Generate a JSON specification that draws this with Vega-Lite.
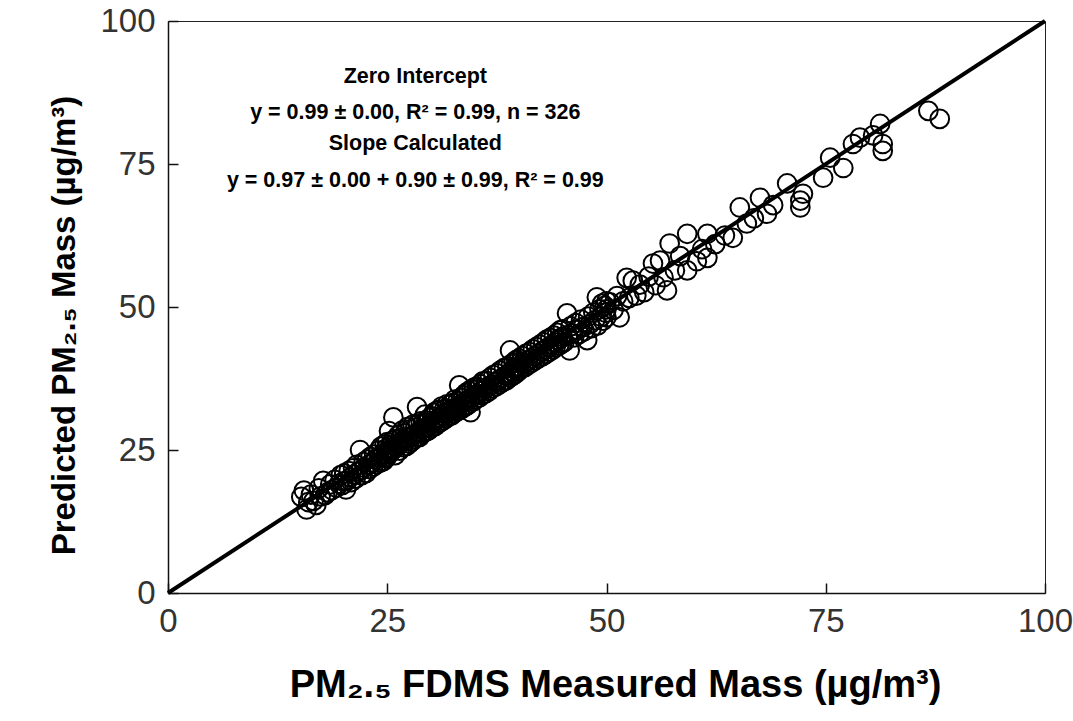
{
  "$schema": "https://vega.github.io/schema/vega-lite/v6.json",
  "width": 877,
  "height": 572,
  "autosize": {"type": "none"},
  "padding": {"left": 168, "top": 21, "right": 28, "bottom": 128},
  "background": "white",
  "config": {
    "view": {"stroke": "#222", "strokeWidth": 1},
    "font": "Liberation Sans",
    "axis": {
      "grid": false,
      "domainColor": "#111",
      "domainWidth": 1.5,
      "tickColor": "#111",
      "tickWidth": 1.5,
      "tickSize": -10,
      "labelFont": "Liberation Sans",
      "labelFontSize": 33,
      "labelColor": "#333",
      "titleFont": "Liberation Sans",
      "titleFontWeight": "bold",
      "titleColor": "#000"
    }
  },
  "datasets": {
    "points": [
      {"meas":15.2,"pred":16.8},{"meas":15.5,"pred":17.9},{"meas":15.8,"pred":14.6},{"meas":16.0,"pred":15.9},{"meas":16.3,"pred":17.2},{"meas":16.6,"pred":16.1},{"meas":16.9,"pred":15.4},{"meas":17.2,"pred":18.3},{"meas":17.4,"pred":16.9},{"meas":17.7,"pred":19.6},
      {"meas":17.9,"pred":17.1},{"meas":18.2,"pred":17.6},{"meas":18.5,"pred":19.0},{"meas":18.7,"pred":18.0},{"meas":19.0,"pred":19.8},{"meas":19.2,"pred":18.4},{"meas":19.5,"pred":19.1},{"meas":19.7,"pred":20.6},{"meas":19.9,"pred":18.9},{"meas":20.0,"pred":19.5},
      {"meas":20.1,"pred":20.9},{"meas":20.3,"pred":18.1},{"meas":20.4,"pred":19.6},{"meas":20.6,"pred":21.3},{"meas":20.8,"pred":20.2},{"meas":20.9,"pred":19.4},{"meas":21.1,"pred":21.8},{"meas":21.2,"pred":20.7},{"meas":21.4,"pred":20.0},{"meas":21.5,"pred":22.4},
      {"meas":21.7,"pred":21.2},{"meas":21.9,"pred":25.0},{"meas":22.0,"pred":21.5},{"meas":22.1,"pred":20.6},{"meas":22.3,"pred":22.9},{"meas":22.4,"pred":21.9},{"meas":22.6,"pred":21.0},{"meas":22.7,"pred":23.3},{"meas":22.9,"pred":22.4},{"meas":23.0,"pred":21.7},
      {"meas":23.1,"pred":23.8},{"meas":23.3,"pred":22.8},{"meas":23.4,"pred":22.1},{"meas":23.5,"pred":24.2},{"meas":23.7,"pred":23.4},{"meas":23.8,"pred":22.5},{"meas":24.0,"pred":24.9},{"meas":24.1,"pred":23.6},{"meas":24.2,"pred":22.8},{"meas":24.3,"pred":25.6},
      {"meas":24.4,"pred":23.9},{"meas":24.5,"pred":24.3},{"meas":24.6,"pred":23.1},{"meas":24.7,"pred":26.0},{"meas":24.8,"pred":24.4},{"meas":24.9,"pred":23.6},{"meas":24.9,"pred":25.3},{"meas":25.0,"pred":24.7},{"meas":25.0,"pred":26.4},{"meas":25.0,"pred":23.9},
      {"meas":25.1,"pred":25.0},{"meas":25.2,"pred":28.3},{"meas":25.3,"pred":24.4},{"meas":25.4,"pred":25.9},{"meas":25.5,"pred":24.8},{"meas":25.6,"pred":26.6},{"meas":25.7,"pred":30.7},{"meas":25.8,"pred":25.2},{"meas":25.9,"pred":24.1},{"meas":26.0,"pred":26.9},
      {"meas":26.1,"pred":25.6},{"meas":26.2,"pred":27.5},{"meas":26.3,"pred":26.0},{"meas":26.4,"pred":24.9},{"meas":26.5,"pred":27.1},{"meas":26.6,"pred":26.3},{"meas":26.7,"pred":28.4},{"meas":26.8,"pred":25.5},{"meas":26.9,"pred":26.8},{"meas":27.0,"pred":27.9},
      {"meas":27.1,"pred":26.5},{"meas":27.2,"pred":25.7},{"meas":27.3,"pred":29.0},{"meas":27.4,"pred":27.2},{"meas":27.5,"pred":26.1},{"meas":27.6,"pred":28.6},{"meas":27.7,"pred":27.4},{"meas":27.8,"pred":26.5},{"meas":27.9,"pred":29.4},{"meas":28.0,"pred":27.6},
      {"meas":28.1,"pred":26.9},{"meas":28.2,"pred":28.9},{"meas":28.3,"pred":27.9},{"meas":28.4,"pred":32.5},{"meas":28.4,"pred":27.2},{"meas":28.5,"pred":29.6},{"meas":28.6,"pred":28.1},{"meas":28.7,"pred":27.3},{"meas":28.8,"pred":30.0},{"meas":28.9,"pred":28.7},
      {"meas":29.0,"pred":27.9},{"meas":29.1,"pred":29.8},{"meas":29.2,"pred":28.8},{"meas":29.3,"pred":31.2},{"meas":29.4,"pred":28.2},{"meas":29.5,"pred":30.1},{"meas":29.6,"pred":29.0},{"meas":29.7,"pred":28.4},{"meas":29.8,"pred":30.6},{"meas":29.9,"pred":29.5},
      {"meas":30.0,"pred":28.8},
      {"meas":30.1,"pred":30.9},{"meas":30.2,"pred":29.6},{"meas":30.3,"pred":31.5},{"meas":30.4,"pred":30.1},{"meas":30.5,"pred":29.2},{"meas":30.6,"pred":31.8},{"meas":30.7,"pred":30.4},{"meas":30.8,"pred":29.7},{"meas":30.9,"pred":32.0},{"meas":31.0,"pred":30.6},
      {"meas":31.1,"pred":29.9},{"meas":31.2,"pred":32.6},{"meas":31.3,"pred":31.0},{"meas":31.4,"pred":30.2},{"meas":31.5,"pred":32.1},{"meas":31.6,"pred":31.3},{"meas":31.7,"pred":30.5},{"meas":31.8,"pred":33.0},{"meas":31.9,"pred":31.6},{"meas":32.0,"pred":30.9},
      {"meas":32.1,"pred":32.9},{"meas":32.2,"pred":31.8},{"meas":32.3,"pred":31.0},{"meas":32.4,"pred":33.2},{"meas":32.5,"pred":32.2},{"meas":32.6,"pred":31.4},{"meas":32.7,"pred":33.8},{"meas":32.8,"pred":32.4},{"meas":32.9,"pred":31.7},{"meas":33.0,"pred":33.5},
      {"meas":33.1,"pred":32.7},{"meas":33.2,"pred":36.3},{"meas":33.3,"pred":32.0},{"meas":33.4,"pred":34.1},{"meas":33.5,"pred":33.0},{"meas":33.6,"pred":32.3},{"meas":33.7,"pred":34.5},{"meas":33.8,"pred":33.4},{"meas":33.9,"pred":32.6},{"meas":34.0,"pred":35.0},
      {"meas":34.1,"pred":33.6},{"meas":34.2,"pred":32.9},{"meas":34.3,"pred":35.3},{"meas":34.4,"pred":34.0},{"meas":34.5,"pred":31.6},{"meas":34.6,"pred":35.6},{"meas":34.7,"pred":34.3},{"meas":34.8,"pred":33.5},{"meas":34.9,"pred":35.9},{"meas":35.0,"pred":34.6},
      {"meas":35.1,"pred":33.9},{"meas":35.2,"pred":36.1},{"meas":35.3,"pred":34.8},{"meas":35.4,"pred":35.9},{"meas":35.5,"pred":34.2},{"meas":35.6,"pred":36.5},{"meas":35.7,"pred":35.3},{"meas":35.8,"pred":34.6},{"meas":35.9,"pred":37.0},{"meas":36.0,"pred":35.7},
      {"meas":36.2,"pred":34.9},{"meas":36.3,"pred":37.1},{"meas":36.4,"pred":36.0},{"meas":36.6,"pred":35.3},{"meas":36.7,"pred":37.6},{"meas":36.9,"pred":36.4},{"meas":37.0,"pred":35.8},{"meas":37.1,"pred":38.1},{"meas":37.3,"pred":36.9},{"meas":37.4,"pred":36.1},
      {"meas":37.5,"pred":38.4},{"meas":37.7,"pred":37.2},{"meas":37.8,"pred":36.5},{"meas":37.9,"pred":38.9},{"meas":38.1,"pred":37.6},{"meas":38.2,"pred":36.9},{"meas":38.3,"pred":39.3},{"meas":38.5,"pred":38.0},{"meas":38.6,"pred":37.2},{"meas":38.7,"pred":39.6},
      {"meas":38.9,"pred":38.4},{"meas":39.0,"pred":42.4},{"meas":39.0,"pred":37.7},{"meas":39.1,"pred":40.0},{"meas":39.2,"pred":38.8},{"meas":39.3,"pred":38.0},{"meas":39.4,"pred":40.3},{"meas":39.5,"pred":39.1},{"meas":39.6,"pred":38.3},{"meas":39.7,"pred":40.7},
      {"meas":39.8,"pred":39.4},{"meas":39.9,"pred":38.7},{"meas":40.0,"pred":41.0},{"meas":40.0,"pred":39.6},{"meas":40.0,"pred":38.9},
      {"meas":40.2,"pred":40.5},{"meas":40.3,"pred":39.3},{"meas":40.4,"pred":41.4},{"meas":40.6,"pred":40.1},{"meas":40.7,"pred":39.5},{"meas":40.8,"pred":41.8},{"meas":41.0,"pred":40.6},{"meas":41.1,"pred":39.9},{"meas":41.2,"pred":42.1},{"meas":41.4,"pred":41.0},
      {"meas":41.5,"pred":40.3},{"meas":41.6,"pred":42.6},{"meas":41.8,"pred":41.4},{"meas":41.9,"pred":40.7},{"meas":42.0,"pred":43.0},{"meas":42.2,"pred":41.8},{"meas":42.3,"pred":41.1},{"meas":42.4,"pred":43.4},{"meas":42.6,"pred":42.2},{"meas":42.7,"pred":41.4},
      {"meas":42.8,"pred":43.8},{"meas":43.0,"pred":42.6},{"meas":43.1,"pred":41.8},{"meas":43.2,"pred":44.3},{"meas":43.4,"pred":43.0},{"meas":43.5,"pred":42.2},{"meas":43.6,"pred":44.6},{"meas":43.8,"pred":43.4},{"meas":43.9,"pred":42.6},{"meas":44.0,"pred":45.0},
      {"meas":44.1,"pred":43.8},{"meas":44.2,"pred":43.0},{"meas":44.4,"pred":45.5},{"meas":44.5,"pred":44.2},{"meas":44.6,"pred":43.3},{"meas":44.7,"pred":45.9},{"meas":44.8,"pred":44.5},{"meas":44.9,"pred":43.6},{"meas":45.0,"pred":46.1},{"meas":45.0,"pred":44.8},
      {"meas":45.2,"pred":43.9},{"meas":45.5,"pred":48.9},{"meas":45.6,"pred":45.1},{"meas":45.8,"pred":42.4},{"meas":45.9,"pred":46.6},{"meas":46.1,"pred":45.4},{"meas":46.3,"pred":44.7},{"meas":46.5,"pred":47.2},{"meas":46.7,"pred":46.0},{"meas":46.9,"pred":45.3},
      {"meas":47.1,"pred":47.8},{"meas":47.3,"pred":46.5},{"meas":47.5,"pred":45.8},{"meas":47.8,"pred":44.2},{"meas":47.9,"pred":48.3},{"meas":48.1,"pred":47.0},{"meas":48.3,"pred":46.3},{"meas":48.5,"pred":49.0},{"meas":48.7,"pred":47.7},{"meas":48.9,"pred":51.7},
      {"meas":49.0,"pred":46.8},{"meas":49.2,"pred":49.6},{"meas":49.4,"pred":48.3},{"meas":49.5,"pred":50.6},{"meas":49.6,"pred":47.6},{"meas":49.8,"pred":50.2},{"meas":49.9,"pred":49.0},{"meas":50.0,"pred":48.2},{"meas":50.0,"pred":51.0},{"meas":50.0,"pred":49.6},
      {"meas":50.4,"pred":50.8},{"meas":50.8,"pred":49.5},{"meas":51.2,"pred":51.9},{"meas":51.5,"pred":48.2},{"meas":51.9,"pred":51.0},{"meas":52.3,"pred":55.1},{"meas":52.6,"pred":51.6},{"meas":53.0,"pred":54.6},{"meas":53.4,"pred":52.0},{"meas":53.8,"pred":53.9},
      {"meas":54.3,"pred":52.6},{"meas":54.8,"pred":55.3},
      {"meas":55.3,"pred":57.6},{"meas":55.6,"pred":53.8},{"meas":56.1,"pred":58.1},{"meas":56.5,"pred":55.2},{"meas":56.9,"pred":52.9},{"meas":57.2,"pred":61.1},{"meas":57.8,"pred":56.4},{"meas":58.4,"pred":58.9},{"meas":59.2,"pred":62.8},{"meas":59.2,"pred":56.4},
      {"meas":60.3,"pred":58.0},{"meas":60.9,"pred":60.1},{"meas":61.5,"pred":62.8},{"meas":61.5,"pred":58.6},{"meas":62.4,"pred":61.0},{"meas":63.5,"pred":62.5},{"meas":64.4,"pred":62.1},
      {"meas":65.2,"pred":67.4},{"meas":66.0,"pred":64.6},{"meas":66.8,"pred":65.5},{"meas":67.5,"pred":69.1},{"meas":68.3,"pred":66.3},{"meas":69.0,"pred":67.8},
      {"meas":70.6,"pred":71.6},{"meas":72.1,"pred":67.4},{"meas":72.1,"pred":68.6},{"meas":72.4,"pred":69.8},{"meas":74.7,"pred":72.6},
      {"meas":75.5,"pred":76.1},{"meas":77.0,"pred":74.3},{"meas":78.1,"pred":78.5},{"meas":78.9,"pred":79.6},
      {"meas":80.4,"pred":80.0},{"meas":81.2,"pred":82.0},{"meas":81.5,"pred":77.3},{"meas":81.5,"pred":78.5},
      {"meas":86.7,"pred":84.3},{"meas":88.0,"pred":82.9}
    ],
    "oneToOne": [
      {"meas":0,"pred":0},{"meas":100,"pred":100}
    ],
    "notes": [
      {"meas":28.2,"pred":90.2,"label":"Zero Intercept"},
      {"meas":28.2,"pred":83.9,"label":"y = 0.99 ± 0.00, R² = 0.99, n = 326"},
      {"meas":28.2,"pred":78.5,"label":"Slope Calculated"},
      {"meas":28.2,"pred":72.1,"label":"y = 0.97 ± 0.00 + 0.90 ± 0.99, R² = 0.99"}
    ]
  },
  "encoding": {
    "x": {
      "field": "meas",
      "type": "quantitative",
      "scale": {"domain": [0, 100], "nice": false},
      "axis": {
        "values": [0, 25, 50, 75, 100],
        "title": "PM₂.₅ FDMS Measured Mass (µg/m³)",
        "titleFontSize": 38,
        "titlePadding": 28,
        "titleX": 447,
        "labelPadding": 22,
        "labelFlush": false
      }
    },
    "y": {
      "field": "pred",
      "type": "quantitative",
      "scale": {"domain": [0, 100], "nice": false},
      "axis": {
        "values": [0, 25, 50, 75, 100],
        "title": "Predicted PM₂.₅ Mass (µg/m³)",
        "titleFontSize": 33,
        "titlePadding": 18,
        "titleY": 304,
        "labelPadding": 23,
        "labelFlush": false
      }
    }
  },
  "layer": [
    {
      "data": {"name": "points"},
      "mark": {"type": "point", "shape": "circle", "filled": false, "stroke": "#000", "strokeWidth": 2, "size": 350, "opacity": 1}
    },
    {
      "data": {"name": "oneToOne"},
      "mark": {"type": "line", "stroke": "#000", "strokeWidth": 4}
    },
    {
      "data": {"name": "notes"},
      "mark": {"type": "text", "font": "Liberation Sans", "fontWeight": "bold", "fontSize": 21.5, "align": "center", "baseline": "middle", "color": "#000"},
      "encoding": {"text": {"field": "label", "type": "nominal"}}
    }
  ]
}
